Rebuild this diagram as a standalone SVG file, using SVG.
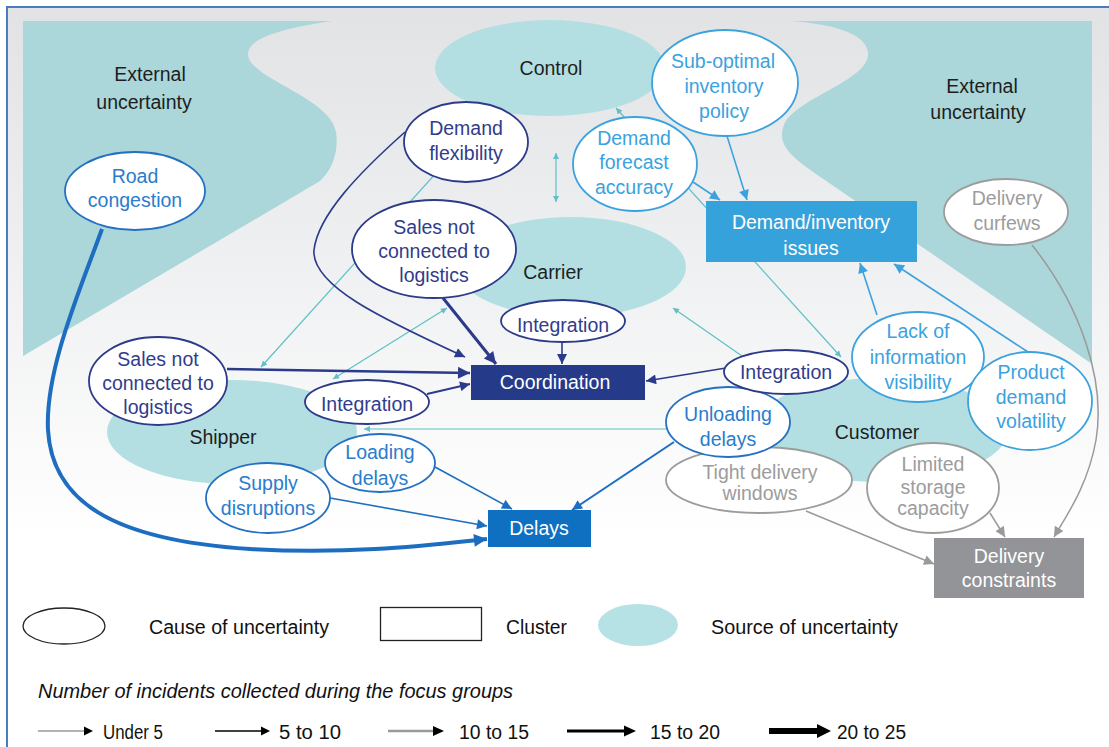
<svg xmlns="http://www.w3.org/2000/svg" width="1109" height="747" viewBox="0 0 1109 747">
  <defs>
    <linearGradient id="bgGrad" x1="0" y1="20" x2="0" y2="540" gradientUnits="userSpaceOnUse">
      <stop offset="0" stop-color="#e1e3e5"/>
      <stop offset="1" stop-color="#ffffff"/>
    </linearGradient>
    <marker id="hNavy" viewBox="0 0 10 10" refX="10" refY="5" markerUnits="userSpaceOnUse" markerWidth="12" markerHeight="10" orient="auto"><path d="M0,0 L10,5 L0,10 z" fill="#2b3a8a"/></marker>
    <marker id="hNavyL" viewBox="0 0 10 10" refX="10" refY="5" markerUnits="userSpaceOnUse" markerWidth="14" markerHeight="12" orient="auto"><path d="M0,0 L10,5 L0,10 z" fill="#2b3a8a"/></marker>
    <marker id="hBlue" viewBox="0 0 10 10" refX="10" refY="5" markerUnits="userSpaceOnUse" markerWidth="12" markerHeight="10" orient="auto"><path d="M0,0 L10,5 L0,10 z" fill="#1d6ec0"/></marker>
    <marker id="hBlueL" viewBox="0 0 10 10" refX="10" refY="5" markerUnits="userSpaceOnUse" markerWidth="16" markerHeight="13" orient="auto"><path d="M0,0 L10,5 L0,10 z" fill="#1b6cbe"/></marker>
    <marker id="hLight" viewBox="0 0 10 10" refX="10" refY="5" markerUnits="userSpaceOnUse" markerWidth="12" markerHeight="10" orient="auto"><path d="M0,0 L10,5 L0,10 z" fill="#3ba2de"/></marker>
    <marker id="hGray" viewBox="0 0 10 10" refX="10" refY="5" markerUnits="userSpaceOnUse" markerWidth="12" markerHeight="10" orient="auto"><path d="M0,0 L10,5 L0,10 z" fill="#9a9a9a"/></marker>
    <marker id="hTeal" viewBox="0 0 10 10" refX="10" refY="5" markerUnits="userSpaceOnUse" markerWidth="7" markerHeight="6" orient="auto-start-reverse"><path d="M0,0 L10,5 L0,10 z" fill="#5fc0c6"/></marker>
    <style>
      text { font-family: "Liberation Sans", Arial, Helvetica, sans-serif; font-size: 19.5px; text-anchor: middle; }
      .cause { fill: #ffffff; stroke-width: 1.8; }
      .navy .cause { stroke: #2d3a8a; }
      .navy text { fill: #313c8c; }
      .mid .cause { stroke: #2470c2; }
      .mid text { fill: #2a7ccd; }
      .light .cause { stroke: #3ba2de; }
      .light text { fill: #3aa2e0; }
      .grey .cause { stroke: #9c9c9c; }
      .grey text { fill: #9c9c9c; }
      .cluster text { fill: #ffffff; }
      .source { fill: #b3dfe2; }
      .external { fill: #abd6da; }
      .label { fill: #1e1e1e; }
      .teal { stroke: #5fc0c6; stroke-width: 1.2; fill: none; }
      .e-navy { stroke: #2b3a8a; fill: none; }
      .e-blue { stroke: #1d6ec0; fill: none; }
      .e-light { stroke: #3ba2de; fill: none; stroke-width: 1.6; }
      .e-gray { stroke: #9a9a9a; fill: none; stroke-width: 1.5; }
      .legend text { fill: #111111; text-anchor: start; }
    </style>
  </defs>

  <!-- frame and background -->
  <rect x="0" y="0" width="1109" height="747" fill="#ffffff"/>
  <rect x="7" y="7" width="1110" height="750" fill="url(#bgGrad)"/>
  <path d="M7,747 V7 H1109" fill="none" stroke="#4a7cc0" stroke-width="2"/>

  <!-- external uncertainty regions -->
  <path class="external" d="M23,21 H332 C300,26 250,34 248,53 C246,78 330,96 336,132 C339,152 332,170 320,181 L23,356 Z"/>
  <path class="external" d="M790,21 H1092 V364 L822,178 C792,158 776,145 784,125 C795,98 872,80 868,52 C865,32 830,24 790,21 Z"/>

  <!-- sources of uncertainty -->
  <g id="control">
    <ellipse class="source" cx="550" cy="68" rx="115" ry="48"/>
    <text class="label" x="551" y="75">Control</text>
  </g>
  <g id="carrier">
    <ellipse class="source" cx="571" cy="267" rx="115" ry="50"/>
    <text class="label" x="553" y="279">Carrier</text>
  </g>
  <g id="shipper">
    <ellipse class="source" cx="232" cy="432" rx="125" ry="52"/>
    <text class="label" x="223" y="444">Shipper</text>
  </g>
  <g id="customer">
    <ellipse class="source" cx="880" cy="430" rx="128" ry="52"/>
    <text class="label" x="877" y="439">Customer</text>
  </g>
  <g id="external-left"><text class="label" x="150" y="81">External</text><text class="label" x="144" y="109">uncertainty</text></g>
  <g id="external-right"><text class="label" x="982" y="93">External</text><text class="label" x="978" y="119">uncertainty</text></g>

  <!-- connectors -->
  <g id="connectors">
    <!-- links between sources -->
    <path class="teal" d="M556,153 L556,202" marker-start="url(#hTeal)" marker-end="url(#hTeal)"/>
    <path class="teal" d="M493,110 L261,367" marker-end="url(#hTeal)"/>
    <path class="teal" d="M333,379 L447,308" marker-start="url(#hTeal)" marker-end="url(#hTeal)"/>
    <path class="teal" d="M742,356 L673,308" marker-end="url(#hTeal)"/>
    <path class="teal" d="M616,108 L841,357" marker-start="url(#hTeal)" marker-end="url(#hTeal)"/>
    <path class="teal" d="M667,429 L364,429" marker-end="url(#hTeal)"/>

    <!-- into Coordination -->
    <path class="e-navy" stroke-width="1.6" d="M405,132 C360,172 318,215 314,250 C311,285 380,318 465,357" marker-end="url(#hNavy)"/>
    <path class="e-navy" stroke-width="3" d="M443,298 L496,364" marker-end="url(#hNavyL)"/>
    <path class="e-navy" stroke-width="1.6" d="M562,342 L562,364" marker-end="url(#hNavy)"/>
    <path class="e-navy" stroke-width="2.5" d="M227,369 L470,373" marker-end="url(#hNavyL)"/>
    <path class="e-navy" stroke-width="1.8" d="M427,394 L470,384" marker-end="url(#hNavy)"/>
    <path class="e-navy" stroke-width="1.6" d="M726,368 L646,381" marker-end="url(#hNavy)"/>

    <!-- into Delays -->
    <path class="e-blue" stroke-width="4" d="M102,229 C80,290 45,370 48,430 C52,500 110,540 250,549 C350,555 430,545 487,539" marker-end="url(#hBlueL)"/>
    <path class="e-blue" stroke-width="1.6" d="M330,498 L487,526" marker-end="url(#hBlue)"/>
    <path class="e-blue" stroke-width="1.6" d="M435,467 L512,509" marker-end="url(#hBlue)"/>
    <path class="e-blue" stroke-width="2" d="M674,442 L572,510" marker-end="url(#hBlue)"/>

    <!-- into Demand/inventory issues -->
    <path class="e-light" d="M727,136 L747,200" marker-end="url(#hLight)"/>
    <path class="e-light" stroke-width="2" d="M693,182 L720,200" marker-end="url(#hLight)"/>
    <path class="e-light" d="M877,315 L860,263" marker-end="url(#hLight)"/>
    <path class="e-light" d="M1028,352 L894,264" marker-end="url(#hLight)"/>

    <!-- into Delivery constraints -->
    <path class="e-gray" d="M1032,245 C1080,305 1106,380 1096,440 C1088,485 1067,515 1054,537" marker-end="url(#hGray)"/>
    <path class="e-gray" d="M990,513 L1005,537" marker-end="url(#hGray)"/>
    <path class="e-gray" d="M806,511 L934,564" marker-end="url(#hGray)"/>
  </g>

  <!-- causes of uncertainty -->
  <g id="road-congestion" class="mid">
    <ellipse class="cause" cx="135" cy="191" rx="70" ry="39"/>
    <text x="135" y="183">Road</text><text x="135" y="207">congestion</text>
  </g>
  <g id="demand-flexibility" class="navy">
    <ellipse class="cause" cx="466" cy="142" rx="62" ry="40"/>
    <text x="466" y="135">Demand</text><text x="466" y="160">flexibility</text>
  </g>
  <g id="sales-not-connected-top" class="navy">
    <ellipse class="cause" cx="434" cy="249" rx="82" ry="49"/>
    <text x="434" y="234">Sales not</text><text x="434" y="258">connected to</text><text x="434" y="282">logistics</text>
  </g>
  <g id="sub-optimal-inventory-policy" class="light">
    <ellipse class="cause" cx="725" cy="83" rx="73" ry="53"/>
    <text x="723" y="68">Sub-optimal</text><text x="724" y="93">inventory</text><text x="724" y="118">policy</text>
  </g>
  <g id="demand-forecast-accuracy" class="light">
    <ellipse class="cause" cx="635" cy="164" rx="62" ry="47"/>
    <text x="634" y="145">Demand</text><text x="634" y="169">forecast</text><text x="634" y="194">accuracy</text>
  </g>
  <g id="delivery-curfews" class="grey">
    <ellipse class="cause" cx="1006" cy="212" rx="62" ry="33"/>
    <text x="1007" y="205">Delivery</text><text x="1007" y="230">curfews</text>
  </g>
  <g id="integration-carrier" class="navy">
    <ellipse class="cause" cx="563" cy="321" rx="62" ry="21"/>
    <text x="563" y="332">Integration</text>
  </g>
  <g id="sales-not-connected-left" class="navy">
    <ellipse class="cause" cx="158" cy="381" rx="69" ry="44"/>
    <text x="158" y="366">Sales not</text><text x="158" y="390">connected to</text><text x="158" y="414">logistics</text>
  </g>
  <g id="integration-shipper" class="navy">
    <ellipse class="cause" cx="367" cy="402" rx="62" ry="22"/>
    <text x="367" y="411">Integration</text>
  </g>
  <g id="lack-of-information-visibility" class="light">
    <ellipse class="cause" cx="918" cy="357" rx="66" ry="45"/>
    <text x="918" y="338">Lack of</text><text x="918" y="364">information</text><text x="918" y="389">visibility</text>
  </g>
  <g id="product-demand-volatility" class="light">
    <ellipse class="cause" cx="1030" cy="401" rx="62" ry="49"/>
    <text x="1031" y="379">Product</text><text x="1031" y="404">demand</text><text x="1031" y="428">volatility</text>
  </g>
  <g id="tight-delivery-windows" class="grey">
    <ellipse class="cause" cx="759" cy="480" rx="93" ry="33"/>
    <text x="760" y="479">Tight delivery</text><text x="760" y="500">windows</text>
  </g>
  <g id="unloading-delays" class="mid">
    <ellipse class="cause" cx="728" cy="422" rx="62" ry="35"/>
    <text x="728" y="421">Unloading</text><text x="728" y="446">delays</text>
  </g>
  <g id="integration-customer" class="navy">
    <ellipse class="cause" cx="786" cy="372" rx="62" ry="22"/>
    <text x="786" y="379">Integration</text>
  </g>
  <g id="limited-storage-capacity" class="grey">
    <ellipse class="cause" cx="933" cy="488" rx="66" ry="45"/>
    <text x="933" y="471">Limited</text><text x="933" y="494">storage</text><text x="933" y="515">capacity</text>
  </g>
  <g id="loading-delays" class="mid">
    <ellipse class="cause" cx="380" cy="463" rx="55" ry="29"/>
    <text x="380" y="459">Loading</text><text x="380" y="485">delays</text>
  </g>
  <g id="supply-disruptions" class="mid">
    <ellipse class="cause" cx="268" cy="498" rx="62" ry="35"/>
    <text x="268" y="490">Supply</text><text x="268" y="515">disruptions</text>
  </g>

  <!-- clusters -->
  <g id="demand-inventory-issues" class="cluster">
    <rect x="706" y="201" width="211" height="61" fill="#36a2dc"/>
    <text x="811" y="229">Demand/inventory</text><text x="811" y="255">issues</text>
  </g>
  <g id="coordination" class="cluster">
    <rect x="471" y="365" width="174" height="35" fill="#263a8a"/>
    <text x="555" y="389">Coordination</text>
  </g>
  <g id="delays" class="cluster">
    <rect x="488" y="510" width="103" height="37" fill="#0f70c2"/>
    <text x="539" y="535">Delays</text>
  </g>
  <g id="delivery-constraints" class="cluster">
    <rect x="934" y="538" width="150" height="60" fill="#929497"/>
    <text x="1009" y="563">Delivery</text><text x="1009" y="587">constraints</text>
  </g>

  <!-- legend -->
  <g id="legend" class="legend">
    <ellipse cx="64" cy="626" rx="41" ry="18" fill="#ffffff" stroke="#222222" stroke-width="1.3"/>
    <text x="149" y="634" textLength="180" lengthAdjust="spacingAndGlyphs">Cause of uncertainty</text>
    <rect x="380.5" y="607.5" width="101" height="33" fill="#ffffff" stroke="#222222" stroke-width="1.3"/>
    <text x="506" y="634" textLength="61" lengthAdjust="spacingAndGlyphs">Cluster</text>
    <ellipse cx="638" cy="625" rx="40" ry="21" fill="#b6e2e5"/>
    <text x="711" y="634" textLength="187" lengthAdjust="spacingAndGlyphs">Source of uncertainty</text>
    <text x="38" y="698" font-style="italic" textLength="475" lengthAdjust="spacingAndGlyphs">Number of incidents collected during the focus groups</text>

    <line x1="38" y1="731" x2="86" y2="731" stroke="#9a9a9a" stroke-width="1.5"/>
    <polygon points="84,726.5 93,731 84,735.5" fill="#000000"/>
    <text x="103" y="739" textLength="60" lengthAdjust="spacingAndGlyphs">Under 5</text>

    <line x1="215" y1="731" x2="263" y2="731" stroke="#000000" stroke-width="1.5"/>
    <polygon points="261,726.5 270,731 261,735.5" fill="#000000"/>
    <text x="279" y="739" textLength="62" lengthAdjust="spacingAndGlyphs">5 to 10</text>

    <line x1="388" y1="731" x2="436" y2="731" stroke="#9a9a9a" stroke-width="2.4"/>
    <polygon points="433,726 444,731 433,736" fill="#000000"/>
    <text x="459" y="739" textLength="70" lengthAdjust="spacingAndGlyphs">10 to 15</text>

    <line x1="567" y1="731" x2="627" y2="731" stroke="#000000" stroke-width="3"/>
    <polygon points="624,725.5 636,731 624,736.5" fill="#000000"/>
    <text x="650" y="739" textLength="70" lengthAdjust="spacingAndGlyphs">15 to 20</text>

    <line x1="769" y1="731" x2="820" y2="731" stroke="#000000" stroke-width="6"/>
    <polygon points="817,724 831,731 817,738" fill="#000000"/>
    <text x="837" y="739" textLength="69" lengthAdjust="spacingAndGlyphs">20 to 25</text>
  </g>
</svg>
